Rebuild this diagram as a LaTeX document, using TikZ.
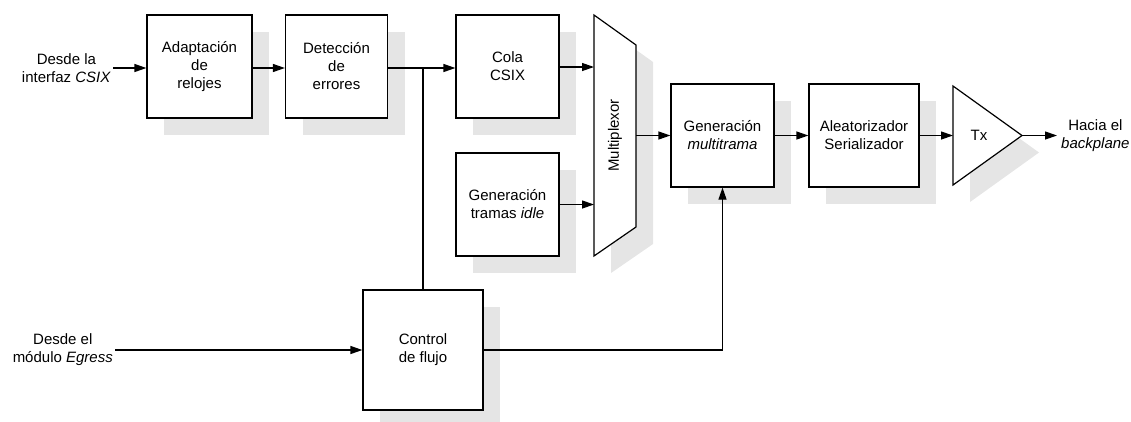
\documentclass[tikz,border=0pt]{standalone}
\usepackage{fontspec}
\setmainfont{Liberation Sans}
\usetikzlibrary{arrows.meta,shadows}
\definecolor{shadowgray}{RGB}{229,229,229}
\begin{document}
\begin{tikzpicture}[x=1pt,y=-1pt,
  txt/.style={font=\fontsize{15}{18}\selectfont, align=center},
  shade/.style={drop shadow={shadow xshift=17pt, shadow yshift=-17pt, fill=shadowgray, opacity=1}},
  block/.style={draw, line width=1.2pt, fill=white, shade, inner sep=0pt, txt},
  arr/.style={line width=1.2pt, -{Triangle[length=12pt,width=8pt]}},
  wire/.style={line width=1.2pt}]
\useasboundingbox (0,0) rectangle (1131,421);

% processing blocks
\node[block, minimum width=105pt, minimum height=103pt] (adap) at (199.5,66.5) {Adaptación\\de\\relojes};
\node[block, minimum width=102pt, minimum height=103pt] (det) at (336.5,66.5) {Detección\\de\\errores};
\node[block, minimum width=103pt, minimum height=103pt] (cola) at (507.5,66.5) {Cola\\CSIX};
\node[block, minimum width=103pt, minimum height=103pt] (idle) at (507.5,204.5) {Generación\\tramas \textit{idle}};
\node[block, minimum width=103pt, minimum height=103pt] (gm) at (722.5,135.5) {Generación\\\textit{multitrama}};
\node[block, minimum width=110pt, minimum height=103pt] (alea) at (864,135.5) {Aleatorizador\\Serializador};
\node[block, minimum width=120pt, minimum height=120pt] (ctrl) at (423,350) {Control\\de flujo};

% multiplexer
\filldraw[wire, fill=white, shade, line join=miter] (594,15) -- (636,45) -- (636,227) -- (594,256) -- cycle;
\node[txt, rotate=90] (mux) at (615,135.5) {Multiplexor};
\coordinate (muxa) at (594,67);
\coordinate (muxb) at (594,204.5);
\coordinate (muxo) at (636,135.5);

% transmitter
\filldraw[wire, fill=white, shade, line join=miter] (953,86) -- (1022,135.5) -- (953,185) -- cycle;
\node[txt] (tx) at (979,135.5) {Tx};
\coordinate (txin) at (953,135.5);
\coordinate (txout) at (1022,135.5);

% external labels
\node[txt, anchor=east, inner sep=2pt] (csix) at (113,68) {Desde la\\interfaz \textit{CSIX}};
\node[txt, anchor=east, inner sep=2pt] (egr) at (115,350) {Desde el\\módulo \textit{Egress}};
\node[txt, anchor=west, inner sep=4pt] (bp) at (1057,135.5) {Hacia el\\\textit{backplane}};

% connectors
\draw[arr] (csix.east) -- (adap.west |- csix.east);
\draw[arr] (adap.east |- 0,68) -- (det.west |- 0,68);
\draw[arr] (det.east |- 0,68) -- (cola.west |- 0,68);
\coordinate (junc) at (ctrl.north |- 0,68);
\draw[wire] (junc) -- (ctrl.north);
\draw[arr] (cola.east |- muxa) -- (muxa);
\draw[arr] (idle.east) -- (muxb);
\draw[arr] (muxo) -- (gm.west);
\draw[arr] (gm.east) -- (alea.west);
\draw[arr] (alea.east) -- (txin);
\draw[arr] (txout) -- (bp.west);
\draw[arr] (egr.east) -- (ctrl.west);
\draw[arr] (ctrl.east) -| (gm.south);
\end{tikzpicture}
\end{document}
